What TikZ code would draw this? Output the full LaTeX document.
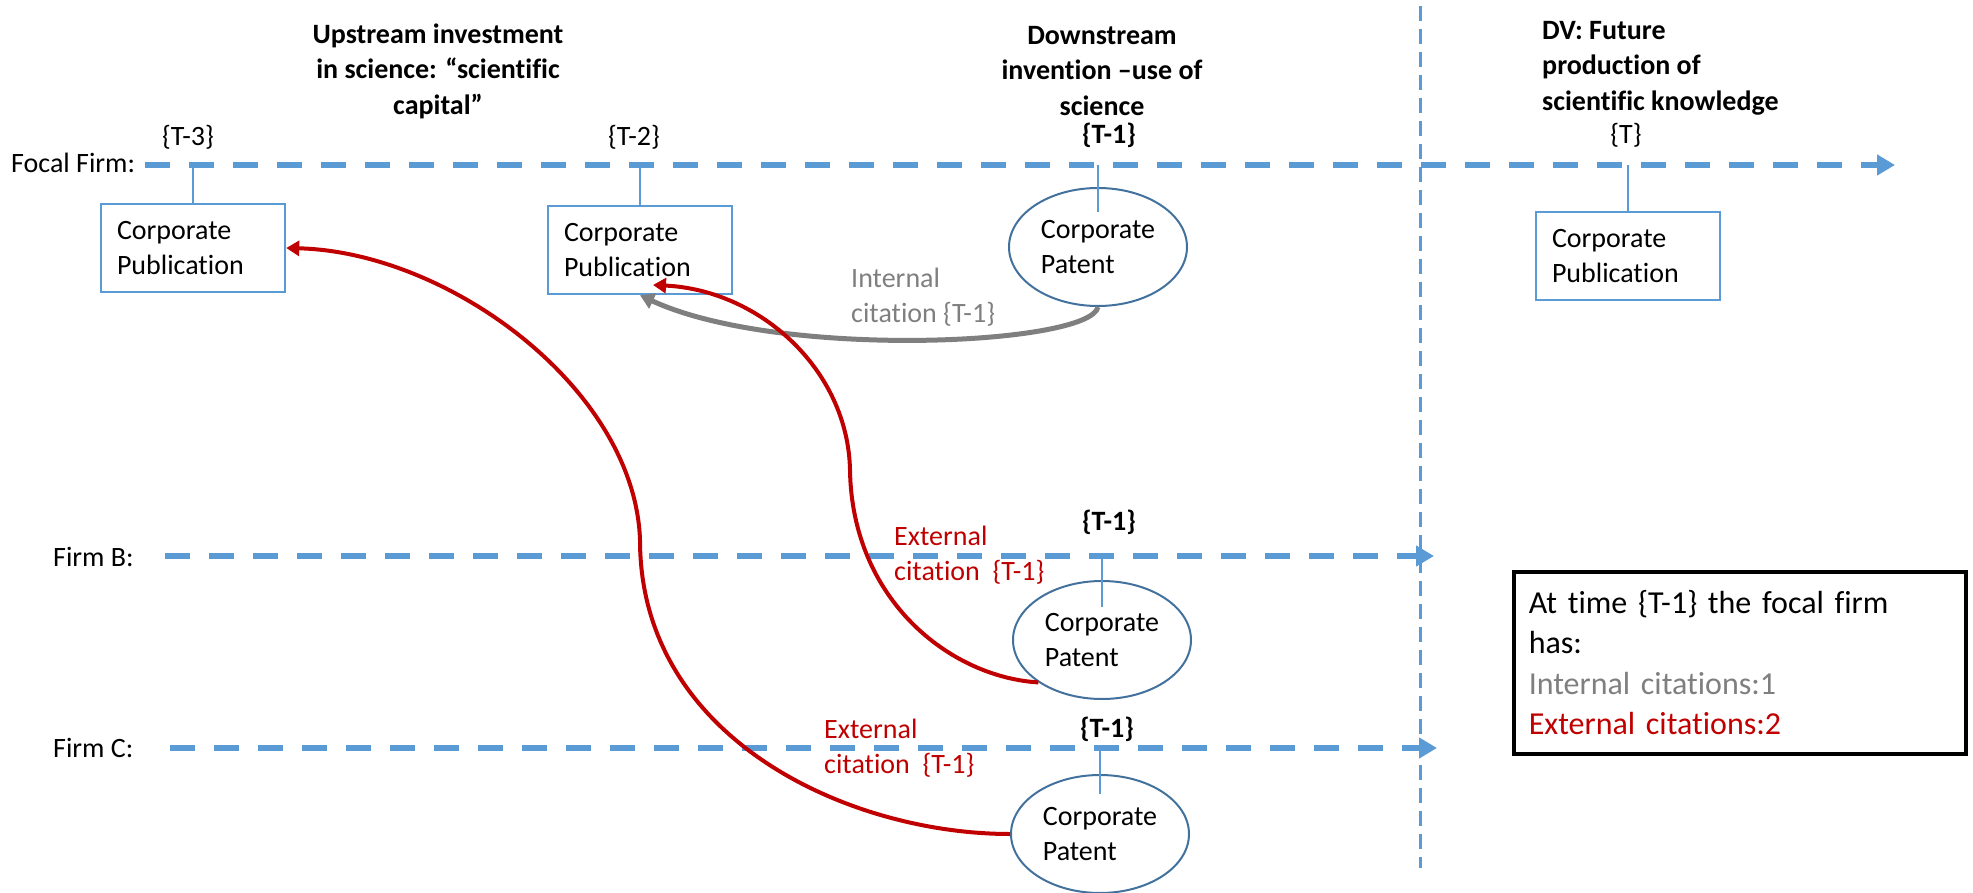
\documentclass[tikz,border=0pt]{standalone}
\usepackage{fontspec}
\setmainfont{Carlito}[Ligatures={NoCommon}]
\usetikzlibrary{arrows.meta,shapes.geometric,calc}
\definecolor{tblue}{HTML}{5B9BD5}
\definecolor{eblue}{HTML}{41719C}
\definecolor{cred}{HTML}{C00000}
\definecolor{cgray}{HTML}{7F7F7F}
\begin{document}
\begin{tikzpicture}[x=1pt,y=-1pt,
  every node/.style={inner sep=0pt, font=\fontsize{28}{34.5}\selectfont},
  timeline/.style={draw=tblue, line width=6pt, dash pattern=on 25pt off 19pt, -{Triangle[length=18pt,width=20pt]}},
  divider/.style={draw=tblue, line width=3pt, dash pattern=on 15pt off 8pt},
  tick/.style={draw=tblue, line width=1.3pt},
  pubbox/.style={rectangle, draw=tblue, line width=2.5pt, text width=152pt, inner xsep=16pt, minimum height=88pt, align=left},
  patent/.style={ellipse, draw=eblue, line width=2pt, minimum width=178pt, minimum height=118pt, align=left},
  title/.style={font=\fontsize{28}{35.5}\selectfont\bfseries},
  boldlab/.style={font=\fontsize{28}{34.5}\selectfont\bfseries},
  extcite/.style={draw=cred, line width=4pt, -{Triangle[length=13pt,width=15pt]}},
  intcite/.style={draw=cgray, line width=5pt, -{Triangle[length=14pt,width=16pt]}},
  extlab/.style={text=cred, align=left, anchor=west},
  intlab/.style={text=cgray, align=left, anchor=west},
  sumbox/.style={draw=black, line width=3.5pt, text width=422pt, inner xsep=15pt, minimum height=182pt, align=left, anchor=north west, font=\fontsize{32}{40.5}\selectfont}
]
\useasboundingbox (0,0) rectangle (1973,893);

% titles
\node[title, align=center] (h1) at (438,71) {Upstream investment\\in science: “scientific\\capital”};
\node[title, align=center] (h2) at (1102,71) {Downstream\\invention –use of\\science};
\node[title, align=left, anchor=west] (h3) at (1542,68) {DV: Future\\production of\\scientific knowledge};

% divider
\coordinate (vtop) at (1420,6);
\coordinate (vbot) at (1420,868);
\draw[divider] (vtop) -- (vbot);

% firm labels and timelines
\node[anchor=west] (lF) at (11,163) {Focal Firm:};
\node[anchor=west] (lB) at (53,557) {Firm B:};
\node[anchor=west] (lC) at (53,748) {Firm C:};
\coordinate (fs) at (145,165);
\coordinate (fe) at (1895,165);
\coordinate (bs) at (165,556);
\coordinate (be) at (1434,556);
\coordinate (cs) at (170,748);
\coordinate (ce) at (1437,748);
\draw[timeline] (fs) -- (fe);
\draw[timeline] (bs) -- (be);
\draw[timeline] (cs) -- (ce);

% time labels
\node (t3) at (188,137) {\{T-3\}};
\node (t2) at (634,137) {\{T-2\}};
\node[boldlab] (t1) at (1109,135) {\{T-1\}};
\node (t0) at (1626,135) {\{T\}};
\node[boldlab] (t1b) at (1109,522) {\{T-1\}};
\node[boldlab] (t1c) at (1107,729) {\{T-1\}};

% publications
\node[pubbox] (box1) at (193,248) {Corporate\\Publication};
\node[pubbox] (box2) at (640,250) {Corporate\\Publication};
\node[pubbox] (boxT) at (1628,256) {Corporate\\Publication};

% patents
\node[patent] (pF) at (1098,247) {Corporate\\Patent};
\node[patent] (pB) at (1102,640) {Corporate\\Patent};
\node[patent] (pC) at (1100,834) {Corporate\\Patent};

% ticks
\draw[tick] (box1.north |- fs) -- (box1.north);
\draw[tick] (box2.north |- fs) -- (box2.north);
\draw[tick] (boxT.north |- fs) -- (boxT.north);
\draw[tick] (pF.north |- fs) -- ($(pF.north)+(0,25)$);
\draw[tick] (pB.north |- bs) -- ($(pB.north)+(0,27)$);
\draw[tick] (pC.north |- cs) -- ($(pC.north)+(0,20)$);

% citations
\draw[intcite] (pF.south) .. controls (1090,345) and (780,360) .. (box2.south);
\coordinate (in2) at (653,285);
\coordinate (m1) at (640,540);
\coordinate (m2) at (850,470);
\draw[extcite] (pC.west) .. controls (850,834) and (640,740) .. (m1) .. controls (635,390) and (450,252) .. (box1.east);
\draw[extcite] (pB.south west) .. controls (950,677) and (852,600) .. (m2) .. controls (848,370) and (760,290) .. (in2);

% citation labels
\node[intlab] (li) at (851,297) {Internal\\citation \{T-1\}};
\node[extlab] (le1) at (894,555) {External\\citation\ \ \{T-1\}};
\node[extlab] (le2) at (824,748) {External\\citation\ \ \{T-1\}};

% summary
\node[sumbox] (sum) at (1512,570) {At time \{T-1\} the focal firm\\has:\\\textcolor{cgray}{Internal citations:1}\\\textcolor{cred}{External citations:2}};
\end{tikzpicture}
\end{document}
